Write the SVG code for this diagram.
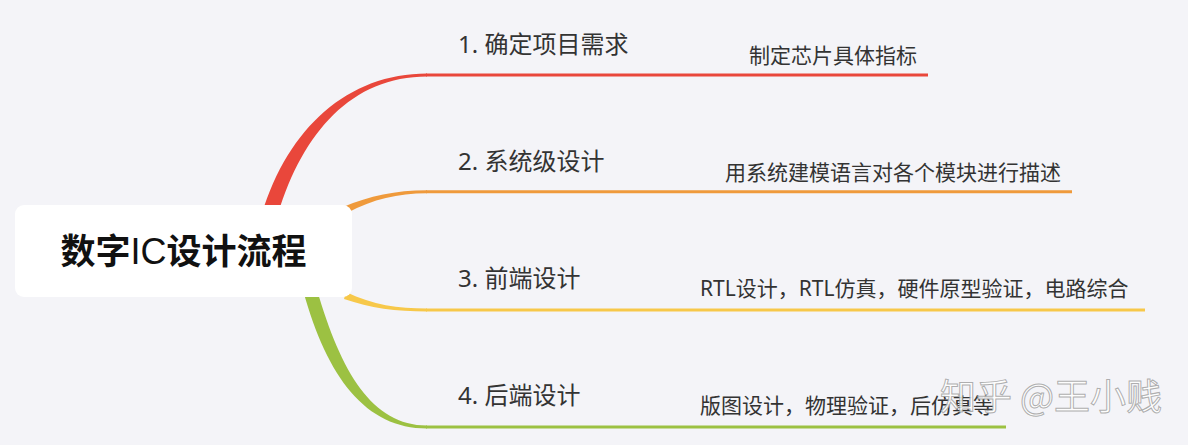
<svg xmlns="http://www.w3.org/2000/svg" width="1188" height="445" viewBox="0 0 1188 445">
<style>
.bg{fill:#f4f4f8}
.line{fill:none;stroke-width:3;stroke-linecap:butt}
.head{font-family:"Noto Sans","Noto Sans CJK SC",sans-serif;font-size:24px;fill:#333}
.sub{font-family:"Noto Sans","Noto Sans CJK SC",sans-serif;font-size:21px;fill:#333}
.root{font-family:"Noto Sans CJK SC",sans-serif;font-size:35px;font-weight:bold;fill:#111}
.latin{font-family:"Liberation Sans",Arial,sans-serif;font-weight:normal;font-size:36px}
.wm{font-family:"Noto Sans CJK SC",sans-serif;font-size:36px;fill:#fff;fill-opacity:0.85;stroke:#9a9a9a;stroke-width:1;stroke-opacity:0.8}
</style>
<rect class="bg" x="0" y="0" width="1188" height="445"/>
<g id="connectors">
  <path d="M262,214 C288,128 348,73.5 427,73.5 L427,76.5 C352,76.5 303,132 278,214 Z" fill="#e9473b"/>
  <path class="line" stroke="#e9473b" d="M426,75 L928,75"/>
  <path d="M343,207 C370,196 395,190.3 427,190.3 L427,193.3 C397,193.5 374,199 347,213 Z" fill="#ef9a3c"/>
  <path class="line" stroke="#ef9a3c" d="M426,191.8 L1072,191.8"/>
  <path d="M346,292 C373,305 398,308.5 427,308.5 L427,311.5 C396,311.5 370,308 344,299 Z" fill="#f7c84a"/>
  <path class="line" stroke="#f7c84a" d="M426,310 L1145,310"/>
  <path d="M303,290 C327,378 366,428.5 427,428.5 L427,425.5 C372,425.5 341,372 317,290 Z" fill="#9cc142"/>
  <path class="line" stroke="#9cc142" d="M426,427 L1006,427"/>
</g>
<g id="root">
  <rect x="15" y="205" width="337" height="92" rx="9" fill="#fff"/>
  <text class="root" x="183.5" y="264" text-anchor="middle">数字<tspan class="latin">IC</tspan>设计流程</text>
</g>
<g id="n1">
  <text class="head" x="458" y="53">1. 确定项目需求</text>
  <text class="sub" x="749" y="63">制定芯片具体指标</text>
</g>
<g id="n2">
  <text class="head" x="458" y="170">2. 系统级设计</text>
  <text class="sub" x="725" y="180">用系统建模语言对各个模块进行描述</text>
</g>
<g id="n3">
  <text class="head" x="458" y="287">3. 前端设计</text>
  <text class="sub" x="700" y="296">RTL设计，RTL仿真，硬件原型验证，电路综合</text>
</g>
<g id="n4">
  <text class="head" x="458" y="404">4. 后端设计</text>
  <text class="sub" x="700" y="413">版图设计，物理验证，后仿真等</text>
</g>
<g id="watermark">
  <text class="wm" x="940" y="410">知乎 @王小贱</text>
</g>
</svg>
